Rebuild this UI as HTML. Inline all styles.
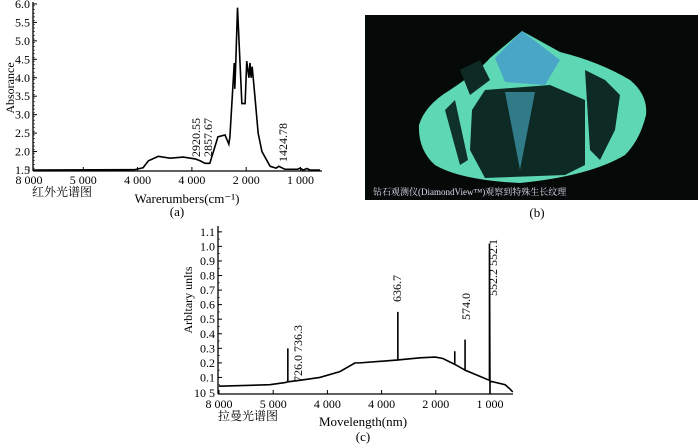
<!DOCTYPE html>
<html><head><meta charset="utf-8">
<style>
html,body{margin:0;padding:0;background:#fff;}
svg{display:block;font-family:"Liberation Serif","Noto Serif CJK SC",serif;}
</style></head>
<body>
<svg id="s" width="698" height="446" viewBox="0 0 698 446" xmlns="http://www.w3.org/2000/svg">
  <rect width="698" height="446" fill="#fff"/>
  <g>
    <rect x="365" y="15" width="333" height="185" fill="#050a08"/>
    <path d="M522,31 L560,52 Q600,62 630,80 Q648,95 646,115 Q640,140 625,155 Q590,176 520,183 Q460,180 435,165 Q418,150 419,125 Q425,105 450,90 Q480,70 490,58 Z" fill="#5ed8b4"/>
    <path d="M522,31 L560,60 L545,85 L505,82 L495,58 Z" fill="#4aa6c6"/>
    <path d="M485,90 L550,85 L585,100 L585,165 L565,175 L485,178 L470,150 L472,110 Z" fill="#0d2a25"/>
    <path d="M505,92 L520,170 L535,92 Z" fill="#3b8ea0" opacity="0.8"/>
    <path d="M455,100 L468,160 L460,165 L445,110 Z" fill="#10302a"/>
    <path d="M585,70 L605,80 L620,95 L615,130 L600,160 L590,150 Z" fill="#0d2a25"/>
    <path d="M460,70 L480,60 L490,80 L470,95 Z" fill="#0d2a25"/>
    <text x="373" y="195" font-size="9" fill="#dde">钻石观测仪(DiamondView™)观察到特殊生长纹理</text>
  </g>
  <text x="537" y="217" font-size="13" text-anchor="middle">(b)</text>
  <g id="ga"></g>
  <g id="gc"></g>
</svg>
<script>
const NS="http://www.w3.org/2000/svg";
// ---- Chart (a) data ----
const aXLabels=["8 000","5 000","4 000","4 000","2 000","1 000"];
const aYTicks=[1.5,2.0,2.5,3.0,3.5,4.0,4.5,5.0,5.5,6.0];
const aX=[0.07,1.95,2.1,2.2,2.38,2.6,2.84,3.06,3.15,3.24,3.33,3.48,3.61,3.68,3.7,3.78,3.79,3.81,3.84,3.92,3.98,4.01,4.05,4.07,4.09,4.11,4.16,4.22,4.29,4.44,4.55,4.6,4.71,4.95,4.99,5.05,5.12,5.17,5.36];
const aY=[1.5,1.51,1.56,1.75,1.87,1.82,1.85,1.8,1.75,1.68,1.68,2.4,2.45,2.2,2.4,4.4,3.7,4.5,5.9,3.3,3.3,4.45,4.0,4.4,4.0,4.3,3.5,2.5,2.0,1.6,1.55,1.6,1.52,1.52,1.55,1.5,1.54,1.5,1.5];
// ---- Chart (c) data ----
const cXLabels=["8 000","5 000","4 000","4 000","2 000","1 000"];
const cYTicks=[0.1,0.2,0.3,0.4,0.5,0.6,0.7,0.8,0.9,1.0,1.1];
const cX=[0,0.94,1.22,1.27,1.27,1.27,1.49,1.86,2.23,2.51,2.6,3.3,3.3,3.3,3.71,3.99,4.13,4.35,4.35,4.35,4.54,4.54,4.54,4.99,4.99,5.0,5.0,5.28,5.37,5.42];
const cY=[0.04,0.05,0.065,0.07,0.3,0.07,0.08,0.1,0.14,0.2,0.2,0.22,0.55,0.22,0.235,0.24,0.23,0.19,0.28,0.19,0.15,0.36,0.15,0.08,1.02,-0.01,0.075,0.05,0.02,0.0];

function el(p,t,a,txt){const e=document.createElementNS(NS,t);for(const k in a)e.setAttribute(k,a[k]);if(txt!==undefined)e.textContent=txt;p.appendChild(e);return e;}

// Chart a
const ga=document.getElementById('ga');
const xa=u=>29+54.3*u, ya=v=>170-(v-1.5)*36.9;
let ax=el(ga,'line',{x1:33,y1:2,x2:33,y2:171,stroke:'#000','stroke-width':1.3});

let bx=el(ga,'line',{x1:33,y1:171,x2:322,y2:171,stroke:'#000','stroke-width':1.3});

aYTicks.forEach(v=>{
  el(ga,'line',{x1:33,x2:37,y1:ya(v),y2:ya(v),stroke:'#000'});
  const t=el(ga,'text',{x:30,y:ya(v)+4,'font-size':12,'text-anchor':'end'},v.toFixed(1));
  
});
for(let v=1.55;v<6;v+=0.1){el(ga,'line',{x1:33,x2:35,y1:ya(v),y2:ya(v),stroke:'#000','stroke-width':0.6});}
aXLabels.forEach((s,i)=>{
  const t=el(ga,'text',{x:xa(i),y:184,'font-size':12,'text-anchor':'middle'},s);
  
  el(ga,'line',{x1:xa(i),x2:xa(i),y1:171,y2:167,stroke:'#000'});
});
let pa=el(ga,'polyline',{points:aX.map((x,i)=>xa(x)+','+ya(aY[i])).join(' '),fill:'none',stroke:'#000','stroke-width':1.6});

[["2920.55",200,157],["2857.67",212,157],["1424.78",287,162]].forEach(a=>{
  const t=el(ga,'text',{x:a[1],y:a[2],'font-size':12,transform:`rotate(-90 ${a[1]} ${a[2]})`},a[0]);
  
});
let yt=el(ga,'text',{x:14,y:88,'font-size':12,'text-anchor':'middle',transform:'rotate(-90 14 88)'},'Absorance');

let cn=el(ga,'text',{x:32,y:196,'font-size':12},'红外光谱图');

let xt=el(ga,'text',{x:187,y:203,'font-size':13,'text-anchor':'middle'},'Warerumbers(cm⁻¹)');

let la=el(ga,'text',{x:177,y:216,'font-size':13,'text-anchor':'middle'},'(a)');


// Chart c
const gc=document.getElementById('gc');
const xc=u=>219+54.2*u, yc=v=>392-v*145.6;
let cax=el(gc,'line',{x1:218,y1:226,x2:218,y2:394,stroke:'#000','stroke-width':1.3});

let cbx=el(gc,'line',{x1:218,y1:394,x2:513,y2:394,stroke:'#000','stroke-width':1.3});

cYTicks.forEach(v=>{
  el(gc,'line',{x1:218,x2:222,y1:yc(v),y2:yc(v),stroke:'#000'});
  const t=el(gc,'text',{x:215,y:yc(v)+4,'font-size':12,'text-anchor':'end'},v.toFixed(1));
  
});
for(let v=0.05;v<1.15;v+=0.05){el(gc,'line',{x1:218,x2:220,y1:yc(v),y2:yc(v),stroke:'#000','stroke-width':0.6});}
let z=el(gc,'text',{x:215,y:397,'font-size':12,'text-anchor':'end'},'10 5');

cXLabels.forEach((s,i)=>{
  const t=el(gc,'text',{x:xc(i),y:408,'font-size':12,'text-anchor':'middle'},s);
  
  el(gc,'line',{x1:xc(i),x2:xc(i),y1:394,y2:390,stroke:'#000'});
});
let pc=el(gc,'polyline',{points:cX.map((x,i)=>xc(x)+','+yc(cY[i])).join(' '),fill:'none',stroke:'#000','stroke-width':1.6});

[["726.0  736.3",302,382],["636.7",401,302],["574.0",470,320],["552.2  552.1",497,296]].forEach(a=>{
  const t=el(gc,'text',{x:a[1],y:a[2],'font-size':12,transform:`rotate(-90 ${a[1]} ${a[2]})`},a[0]);
  
});
let cyt=el(gc,'text',{x:192,y:300,'font-size':12,'text-anchor':'middle',transform:'rotate(-90 192 300)'},'Arbltary unlts');

let ccn=el(gc,'text',{x:218,y:420,'font-size':12},'拉曼光谱图');

let cxt=el(gc,'text',{x:363,y:426,'font-size':13,'text-anchor':'middle'},'Movelength(nm)');

let lc=el(gc,'text',{x:363,y:441,'font-size':13,'text-anchor':'middle'},'(c)');

</script>
</body></html>
